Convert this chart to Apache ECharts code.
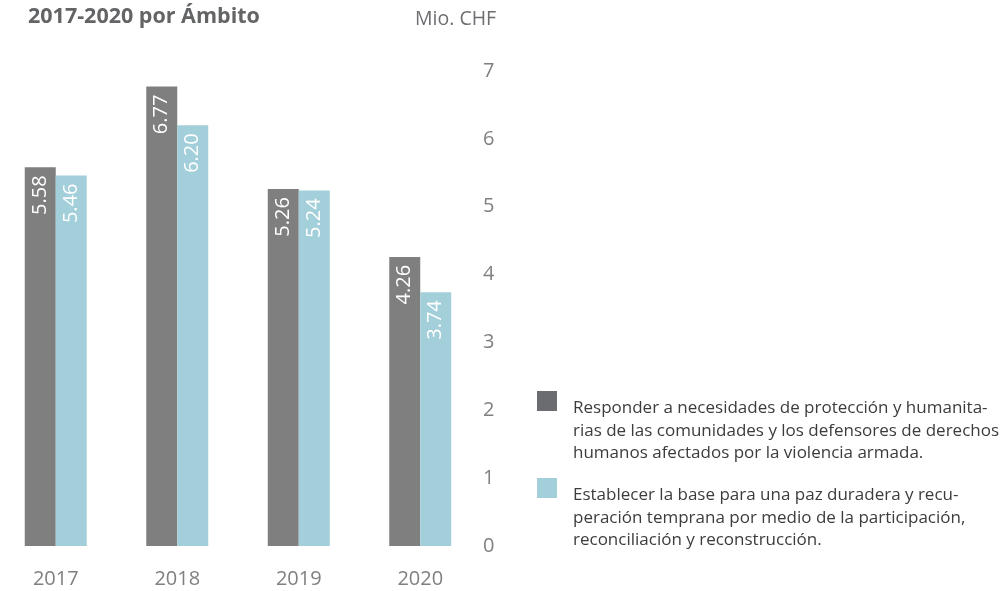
<!DOCTYPE html>
<html>
<head>
<meta charset="utf-8">
<script src="https://cdn.jsdelivr.net/npm/echarts@6/dist/echarts.min.js"></script>
<style>
	html, body { margin: 0; padding: 0; background: #fff; overflow: hidden; }
	#chart { width: 1010px; height: 591px; margin-left: -5px; }
</style>
</head>
<body>
<div id="chart"></div>
<script>
/** 年份与两个领域的金额 (Mio. CHF) */
let years = ["2017", "2018", "2019", "2020"];
let proteccion = [5.58, 6.77, 5.26, 4.26];
let paz = [5.46, 6.20, 5.24, 3.74];
let y_ticks = [0, 1, 2, 3, 4, 5, 6, 7];
let legend_lines = [
	["Responder a necesidades de protección y humanita-", "rias de las comunidades y los defensores de derechos", "humanos afectados por la violencia armada."],
	["Establecer la base para una paz duradera y recu-", "peración temprana por medio de la participación,", "reconciliación y reconstrucción."],
];
let colors = { dark: "#7f7f80", light: "#a2cfd9", legendDark: "#6b6c6f" };
let font = "'Open Sans', 'Noto Sans', sans-serif";
let dx = 5; // 画布向左偏移了 5px

let chart = echarts.init(document.getElementById("chart"));

let barLabel = {
	show: true,
	position: "insideTop",
	rotate: 90,
	align: "right",
	verticalAlign: "middle",
	distance: 8,
	color: "#fff",
	fontFamily: font,
	fontSize: 20,
	formatter: function (p) {
		return p.value.toFixed(2);
	},
};

let option = {
	animation: false,
	textStyle: { fontFamily: font },
	grid: {
		left: 0,
		right: 524,
		top: 71,
		bottom: 45,
	},
	xAxis: {
		type: "category",
		data: years,
		axisLine: { show: false },
		axisTick: { show: false },
		axisLabel: {
			color: "#808080",
			fontSize: 20,
			margin: 23,
			fontFamily: font,
		},
	},
	yAxis: {
		type: "value",
		position: "right",
		min: y_ticks[0],
		max: y_ticks[y_ticks.length - 1],
		interval: 1,
		splitLine: { show: false },
		axisLine: { show: false },
		axisTick: { show: false },
		axisLabel: {
			color: "#808080",
			fontSize: 20,
			margin: 2,
			fontFamily: font,
		},
	},
	series: [
		{
			name: "proteccion",
			type: "bar",
			data: proteccion,
			barWidth: 31,
			barGap: "0%",
			itemStyle: { color: colors.dark },
			label: barLabel,
		},
		{
			name: "paz",
			type: "bar",
			data: paz,
			barWidth: 31,
			barGap: "0%",
			itemStyle: { color: colors.light },
			label: barLabel,
		},
	],
	graphic: [
		{
			type: "text",
			left: 28 + dx,
			top: 6,
			style: {
				text: "2017-2020 por Ámbito",
				fontFamily: font,
				fontWeight: "bold",
				fontSize: 21.5,
				fill: "#636466",
			},
		},
		{
			type: "text",
			left: 415 + dx,
			top: 9,
			style: {
				text: "Mio. CHF",
				fontFamily: font,
				fontSize: 19.5,
				fill: "#6d6e71",
			},
		},
		// 图例
		{
			type: "rect",
			shape: { x: 537 + dx, y: 391, width: 20, height: 20 },
			style: { fill: colors.legendDark },
		},
		{
			type: "text",
			left: 573 + dx,
			top: 397,
			style: {
				text: legend_lines[0].join("\n"),
				fontFamily: font,
				fontSize: 17,
				lineHeight: 22.5,
				fill: "#3c3c3c",
			},
		},
		{
			type: "rect",
			shape: { x: 537 + dx, y: 478, width: 20, height: 20 },
			style: { fill: colors.light },
		},
		{
			type: "text",
			left: 573 + dx,
			top: 484,
			style: {
				text: legend_lines[1].join("\n"),
				fontFamily: font,
				fontSize: 17,
				lineHeight: 22.5,
				fill: "#3c3c3c",
			},
		},
	],
};
chart.setOption(option);
</script>
</body>
</html>
